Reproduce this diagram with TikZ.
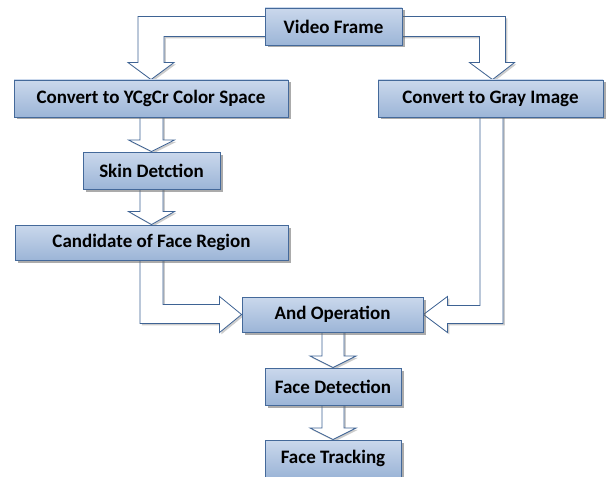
\documentclass[tikz,border=0pt]{standalone}
\usepackage{fontspec}
\setmainfont{Carlito}
\usetikzlibrary{calc,shadows}
\pgfdeclarelayer{bg}
\pgfsetlayers{bg,main}
\definecolor{boxtop}{HTML}{CAD8EC}
\definecolor{boxbot}{HTML}{9CB5D7}
\definecolor{boxline}{HTML}{44699A}
\definecolor{arrline}{HTML}{3E6394}
\tikzset{
  fbox/.style={draw=boxline, line width=0.9pt, top color=boxtop, bottom color=boxbot,
    font=\bfseries\fontsize{19}{22}\selectfont, text=black, inner sep=0pt,
    drop shadow={shadow xshift=2.5pt, shadow yshift=-2.5pt, fill=black!60, opacity=0.55}},
  harrow/.style={draw=arrline, line width=0.8pt, fill=white, line join=miter,
    drop shadow={shadow xshift=1.8pt, shadow yshift=-1.8pt, fill=black!40, opacity=0.5}}
}
\begin{document}
\begin{tikzpicture}[x=1pt,y=-1pt]
\useasboundingbox (0,0) rectangle (607,476);
\node[fbox, minimum width=137pt, minimum height=37pt] (vf) at (333.5,26.5) {Video Frame};
\node[fbox, minimum width=274pt, minimum height=37pt] (ycg) at (151,98.5) {Convert to YCgCr Color Space};
\node[fbox, minimum width=225pt, minimum height=37pt] (gray) at (490.5,98.5) {Convert to Gray Image};
\node[fbox, minimum width=137pt, minimum height=37pt] (skin) at (151.5,170.5) {Skin Detction};
\node[fbox, minimum width=273pt, minimum height=35pt] (cand) at (151.5,242.5) {Candidate of Face Region};
\node[fbox, minimum width=181pt, minimum height=35pt] (and) at (332.5,314.5) {And Operation};
\node[fbox, minimum width=136pt, minimum height=37pt] (fdet) at (333,386.5) {Face Detection};
\node[fbox, minimum width=136pt, minimum height=37pt] (ftrk) at (333,458.5) {Face Tracking};
\begin{pgfonlayer}{bg}
% Video Frame -> YCgCr
\path[harrow] let \p1=(vf.west), \p2=(ycg.north) in
  ({\x1+3pt},{\y1+10pt}) -- ({\x2-13pt},{\y1+10pt}) -- ({\x2-13pt},{\y2+17pt}) -- ({\x2-23pt},{\y2+17pt})
  -- (\x2,\y2) -- ({\x2+23pt},{\y2+17pt}) -- ({\x2+13pt},{\y2+17pt}) -- ({\x2+13pt},{\y1-10pt})
  -- ({\x1+3pt},{\y1-10pt}) -- cycle;
% Video Frame -> Gray
\path[harrow] let \p1=(vf.east), \p2=(gray.north) in
  ({\x1-3pt},{\y1+10pt}) -- ({\x2+15pt},{\y1+10pt}) -- ({\x2+15pt},{\y2+17pt}) -- ({\x2+24pt},{\y2+17pt})
  -- ({\x2+2pt},\y2) -- ({\x2-21pt},{\y2+17pt}) -- ({\x2-11pt},{\y2+17pt}) -- ({\x2-11pt},{\y1-10pt})
  -- ({\x1-3pt},{\y1-10pt}) -- cycle;
% YCgCr -> Skin
\path[harrow] let \p1=(ycg.south), \p2=(skin.north) in
  ({\x2-11.5pt},{\y1+3pt}) -- ({\x2-11.5pt},{\y2+11.5pt}) -- ({\x2-23pt},{\y2+11.5pt}) -- (\x2,\y2)
  -- ({\x2+23pt},{\y2+11.5pt}) -- ({\x2+11.5pt},{\y2+11.5pt}) -- ({\x2+11.5pt},{\y1+3pt}) -- cycle;
% Skin -> Candidate
\path[harrow] let \p1=(skin.south), \p2=(cand.north) in
  ({\x2-11.5pt},{\y1+3pt}) -- ({\x2-11.5pt},{\y2+13pt}) -- ({\x2-23pt},{\y2+13pt}) -- (\x2,\y2)
  -- ({\x2+23pt},{\y2+13pt}) -- ({\x2+11.5pt},{\y2+13pt}) -- ({\x2+11.5pt},{\y1+3pt}) -- cycle;
% Candidate -> And
\path[harrow] let \p1=(cand.south), \p2=(and.west) in
  ({\x1-11.5pt},{\y1+3pt}) -- ({\x1-11.5pt},{\y2-9pt}) -- ({\x2-22pt},{\y2-9pt}) -- ({\x2-22pt},{\y2-18pt})
  -- (\x2,\y2) -- ({\x2-22pt},{\y2+18pt}) -- ({\x2-22pt},{\y2+10pt}) -- ({\x1+11.5pt},{\y2+10pt})
  -- ({\x1+11.5pt},{\y1+3pt}) -- cycle;
% Gray -> And
\path[harrow] let \p1=(gray.south), \p2=(and.east) in
  ({\x1+12.5pt},{\y1+3pt}) -- ({\x1+12.5pt},{\y2-9pt}) -- ({\x2+24pt},{\y2-9pt}) -- ({\x2+24pt},{\y2-18pt})
  -- (\x2,\y2) -- ({\x2+24pt},{\y2+18pt}) -- ({\x2+24pt},{\y2+9pt}) -- ({\x1-10.5pt},{\y2+9pt})
  -- ({\x1-10.5pt},{\y1+3pt}) -- cycle;
% And -> Face Detection
\path[harrow] let \p1=(and.south), \p2=(fdet.north) in
  ({\x2-11pt},{\y1+3pt}) -- ({\x2-11pt},{\y2+11.5pt}) -- ({\x2-23pt},{\y2+11.5pt}) -- (\x2,\y2)
  -- ({\x2+23pt},{\y2+11.5pt}) -- ({\x2+11pt},{\y2+11.5pt}) -- ({\x2+11pt},{\y1+3pt}) -- cycle;
% Face Detection -> Face Tracking
\path[harrow] let \p1=(fdet.south), \p2=(ftrk.north) in
  ({\x2-11pt},{\y1+3pt}) -- ({\x2-11pt},{\y2+11.5pt}) -- ({\x2-23pt},{\y2+11.5pt}) -- (\x2,\y2)
  -- ({\x2+23pt},{\y2+11.5pt}) -- ({\x2+11pt},{\y2+11.5pt}) -- ({\x2+11pt},{\y1+3pt}) -- cycle;
\end{pgfonlayer}
\end{tikzpicture}
\end{document}
